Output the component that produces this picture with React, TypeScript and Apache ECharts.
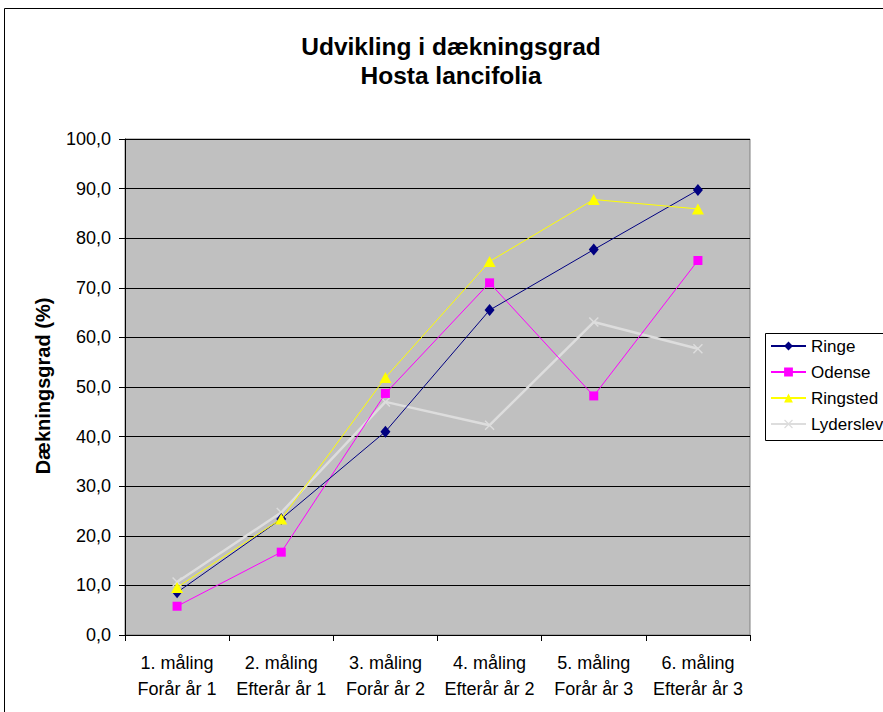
import React, { useEffect, useRef } from "react";
import * as echarts from "echarts";

const categories = [
  "1. måling\nForår år 1",
  "2. måling\nEfterår år 1",
  "3. måling\nForår år 2",
  "4. måling\nEfterår år 2",
  "5. måling\nForår år 3",
  "6. måling\nEfterår år 3",
];
const ringe = [8.6, 23.4, 41.0, 65.5, 77.7, 89.7];
const odense = [5.8, 16.7, 48.7, 71.0, 48.2, 75.5];
const ringsted = [9.6, 23.4, 51.9, 75.3, 87.8, 85.9];
const lyderslev = [10.7, 24.7, 47.0, 42.3, 63.1, 57.7];

const FONT = "'Liberation Sans', Arial, sans-serif";
const X_SYMBOL =
  "path://M0,1L1,0L5,4L9,0L10,1L6,5L10,9L9,10L5,6L1,10L0,9L4,5Z";

export default function App() {
  const ref = useRef<HTMLDivElement>(null);
  useEffect(() => {
    if (!ref.current) return;
    const chart = echarts.init(ref.current, null, { renderer: "svg" });
    chart.setOption({
      animation: false,
      backgroundColor: "#ffffff",
      textStyle: { fontFamily: FONT, color: "#000" },
      graphic: [
        {
          type: "rect",
          shape: { x: 4.5, y: 8.5, width: 1000, height: 1000 },
          style: { fill: "none", stroke: "#000", lineWidth: 1 },
          silent: true,
          z: -1,
        },
        {
          type: "rect",
          shape: { x: 765.5, y: 333.5, width: 200, height: 107 },
          style: { fill: "#fff", stroke: "#000", lineWidth: 1 },
          silent: true,
          z: 0,
        },
        {
          type: "text",
          x: 451,
          y: 46,
          style: {
            text: "Udvikling i dækningsgrad",
            fontFamily: FONT,
            fontSize: 24.5,
            fontWeight: "bold",
            fill: "#000",
            textAlign: "center",
            textVerticalAlign: "middle",
          },
        },
        {
          type: "text",
          x: 451,
          y: 75,
          style: {
            text: "Hosta lancifolia",
            fontFamily: FONT,
            fontSize: 24.5,
            fontWeight: "bold",
            fill: "#000",
            textAlign: "center",
            textVerticalAlign: "middle",
          },
        },
        {
          type: "text",
          x: 43,
          y: 386,
          rotation: Math.PI / 2,
          style: {
            text: "Dækningsgrad (%)",
            fontFamily: FONT,
            fontSize: 20,
            fontWeight: "bold",
            fill: "#000",
            textAlign: "center",
            textVerticalAlign: "middle",
          },
        },
      ],
      grid: {
        left: 125,
        right: 133,
        top: 139,
        bottom: 77,
        show: true,
        backgroundColor: "#C0C0C0",
        borderColor: "#808080",
        borderWidth: 1,
      },
      legend: {
        orient: "vertical",
        left: 765,
        top: 333,
        padding: [4, 5, 7, 5],
        itemGap: 8,
        itemWidth: 35,
        itemHeight: 11,
        borderWidth: 0,
        z: 10,
        textStyle: { fontFamily: FONT, fontSize: 17, lineHeight: 18, color: "#000" },
        data: ["Ringe", "Odense", "Ringsted", "Lyderslev"],
      },
      xAxis: {
        type: "category",
        data: categories,
        boundaryGap: true,
        axisLine: { lineStyle: { color: "#000", width: 1 } },
        axisTick: { show: true, length: 6, lineStyle: { color: "#000" } },
        axisLabel: {
          fontFamily: FONT,
          fontSize: 18,
          lineHeight: 26,
          color: "#000",
          margin: 15,
          interval: 0,
        },
        splitLine: { show: false },
      },
      yAxis: {
        type: "value",
        min: 0,
        max: 100,
        interval: 10,
        axisLine: { show: true, lineStyle: { color: "#000", width: 1 } },
        axisTick: { show: true, length: 6, lineStyle: { color: "#000" } },
        axisLabel: {
          fontFamily: FONT,
          fontSize: 18,
          color: "#000",
          margin: 14,
          formatter: (v: number) => v.toFixed(1).replace(".", ","),
        },
        splitLine: { show: true, lineStyle: { color: "#000", width: 1 } },
      },
      series: [
        {
          name: "Ringe",
          type: "line",
          data: ringe,
          symbol: "diamond",
          symbolSize: [10, 12],
          itemStyle: { color: "#000080" },
          lineStyle: { color: "#000080", width: 1 },
          z: 4,
        },
        {
          name: "Odense",
          type: "line",
          data: odense,
          symbol: "rect",
          symbolSize: 9,
          itemStyle: { color: "#FF00FF" },
          lineStyle: { color: "#FF00FF", width: 1 },
          z: 3,
        },
        {
          name: "Ringsted",
          type: "line",
          data: ringsted,
          symbol: "triangle",
          symbolSize: [12, 11],
          itemStyle: { color: "#FFFF00" },
          lineStyle: { color: "#FFFF00", width: 1 },
          z: 5,
        },
        {
          name: "Lyderslev",
          type: "line",
          data: lyderslev,
          symbol: X_SYMBOL,
          symbolSize: 10,
          itemStyle: { color: "#DDDDDD" },
          lineStyle: { color: "#DDDDDD", width: 2.5 },
          z: 2,
        },
      ],
    });
    return () => chart.dispose();
  }, []);
  return (
    <div
      ref={ref}
      style={{ position: "fixed", left: 0, top: 0, width: 883, height: 712 }}
    />
  );
}
